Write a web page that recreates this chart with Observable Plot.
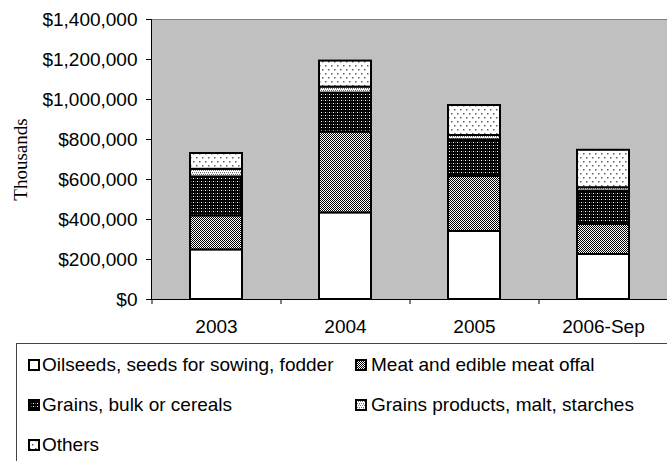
<!DOCTYPE html>
<html>
<head>
<meta charset="utf-8">
<script src="https://cdn.jsdelivr.net/npm/d3@7"></script>
<script src="https://cdn.jsdelivr.net/npm/@observablehq/plot@0.6"></script>
<style>
  html, body { margin: 0; padding: 0; background: #ffffff; }
  body { width: 667px; height: 461px; overflow: hidden; font-family: "Liberation Sans", Arial, sans-serif; }
  #chart svg { display: block; }
  #legend { position: relative; margin-left: 16px; width: 700px; height: 200px; border: 1px solid #444; background: #fff; box-sizing: border-box; }
  .item { position: absolute; display: flex; align-items: center; height: 24px; font-size: 19px; color: #000; white-space: nowrap; }
  .item svg { display: block; margin-right: 2px; }
</style>
</head>
<body>
<div id="chart"></div>
<div id="legend"></div>
<script>
const categories = ["2003", "2004", "2005", "2006-Sep"];
const seriesNames = [
  "Oilseeds, seeds for sowing, fodder",
  "Meat and edible meat offal",
  "Grains, bulk or cereals",
  "Grains products, malt, starches",
  "Others"
];
const oilseeds       = [248000, 433000, 340000, 225000];
const meat           = [170000, 404000, 275000, 150000];
const grainsBulk     = [195000, 195000, 183000, 167000];
const grainsProducts = [38000, 30000, 22000, 17000];
const others         = [79000, 130000, 150000, 187000];
const yTicks = [0, 200000, 400000, 600000, 800000, 1000000, 1200000, 1400000];
const axisTitle = "Thousands";

const seriesValues = [oilseeds, meat, grainsBulk, grainsProducts, others];
const patternIds = ["p-oil", "p-meat", "p-bulk", "p-prod", "p-other"];

const data = [];
seriesNames.forEach((s, i) => {
  categories.forEach((c, j) => data.push({category: c, series: s, value: seriesValues[i][j]}));
});

const plot = Plot.plot({
  width: 667,
  height: 343,
  marginTop: 19,
  marginBottom: 44,
  marginLeft: 151,
  marginRight: 0,
  style: {fontFamily: "'Liberation Sans', Arial, sans-serif", fontSize: "19px", color: "#000", background: "transparent"},
  x: {domain: categories, paddingInner: 0.6, paddingOuter: 0.3, label: null},
  y: {domain: [0, 1400000], label: null},
  color: {type: "ordinal", domain: seriesNames, range: patternIds.map(id => `url(#${id})`)},
  marks: [
    Plot.frame({fill: "#c0c0c0", stroke: "#808080"}),
    Plot.barY(data, {x: "category", y: "value", fill: "series", stroke: "#000", strokeWidth: 2}),
    Plot.frame({anchor: "left", stroke: "#000"}),
    Plot.ruleY([0], {stroke: "#000"}),
    Plot.axisY({ticks: yTicks, tickSize: 5, tickPadding: 9, tickFormat: d => "$" + d3.format(",")(d), label: null}),
    Plot.axisX({tickSize: 0, tickPadding: 20, label: null}),
    Plot.axisX({tickSize: 5, tickFormat: () => "", dx: -64.5, label: null}),
    Plot.text([axisTitle], {frameAnchor: "left", textAnchor: "middle", lineAnchor: "middle", dx: -131, rotate: -90, fontFamily: "'Liberation Serif', 'Times New Roman', serif", fontSize: 19})
  ]
});

// SVG fill patterns (defined once, used by bars and legend swatches)
const defs = d3.create("svg:defs");
function pat(id, w, h, bg, dots) {
  const p = defs.append("pattern").attr("id", id).attr("patternUnits", "userSpaceOnUse").attr("width", w).attr("height", h);
  p.append("rect").attr("width", w).attr("height", h).attr("fill", bg);
  dots.forEach(([x, y, c, s]) => p.append("rect").attr("x", x).attr("y", y).attr("width", s || 1).attr("height", s || 1).attr("fill", c));
}
pat("p-oil", 4, 4, "#ffffff", []);
pat("p-meat", 2, 2, "#ffffff", [[0, 0, "#000"], [1, 1, "#000"]]);
pat("p-bulk", 4, 3, "#000000", [[1, 1, "#ffffff"], [3, 1, "#555"]]);
pat("p-prod", 4, 4, "#ffffff", [[0, 0, "#707070"], [2, 0, "#707070"], [1, 2, "#707070"], [3, 2, "#707070"], [0, 1, "#c0c0c0"]]);
pat("p-other", 6, 8, "#ffffff", [[1, 1, "#606060", 1.5], [4, 5, "#606060", 1.5]]);
plot.insertBefore(defs.node(), plot.firstChild);

document.getElementById("chart").appendChild(plot);

// Legend
const legend = d3.select("#legend");
const positions = [[11, 25], [338, 354], [11, 25], [338, 354], [11, 25]];
const rows = [0, 0, 1, 1, 2];
seriesNames.forEach((s, i) => {
  const [sx, tx] = positions[i];
  const top = 21 + rows[i] * 40 - 12;
  const item = legend.append("div").attr("class", "item").style("left", sx + "px").style("top", top + "px");
  const sw = item.append("svg").attr("width", 12).attr("height", 12);
  sw.append("rect").attr("x", 1).attr("y", 1).attr("width", 10).attr("height", 10)
    .attr("fill", `url(#${patternIds[i]})`).attr("stroke", "#000").attr("stroke-width", 2);
  item.append("span").text(s).style("margin-left", (tx - sx - 14) + "px");
});
</script>
</body>
</html>
